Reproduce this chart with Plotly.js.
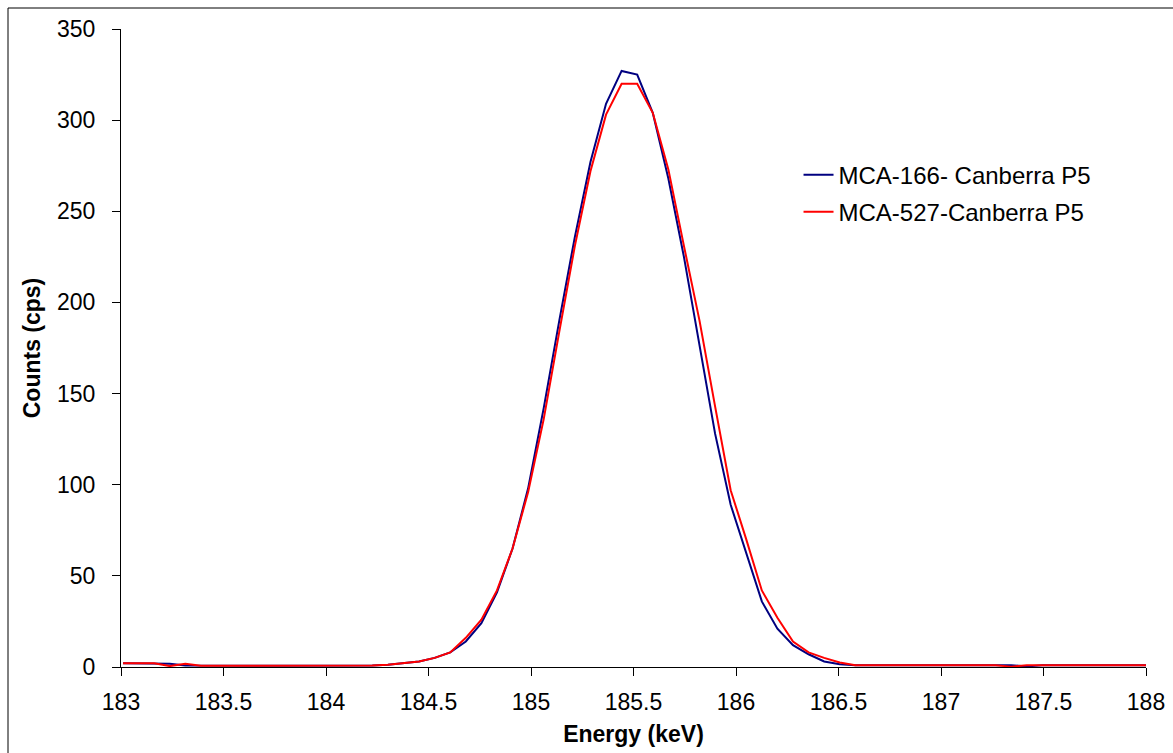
<!DOCTYPE html>
<html>
<head>
<meta charset="utf-8">
<script src="https://cdn.plot.ly/plotly-3.0.1.min.js"></script>
<style>
html,body{margin:0;padding:0;background:#fff;}
#chart{width:1173px;height:753px;}
</style>
</head>
<body>
<div id="chart"></div>
<script>
// Energy channels (keV)
const energy = [
  183.010, 183.086, 183.162, 183.238, 183.314, 183.390, 183.466, 183.542, 183.618, 183.694,
  183.770, 183.846, 183.922, 183.998, 184.074, 184.150, 184.226, 184.302, 184.378, 184.454,
  184.530, 184.606, 184.682, 184.758, 184.834, 184.910, 184.986, 185.062, 185.138, 185.214,
  185.290, 185.366, 185.442, 185.518, 185.594, 185.670, 185.746, 185.822, 185.898, 185.974,
  186.050, 186.126, 186.202, 186.278, 186.354, 186.430, 186.506, 186.582, 186.658, 186.734,
  186.810, 186.886, 186.962, 187.038, 187.114, 187.190, 187.266, 187.342, 187.418, 187.494,
  187.570, 187.646, 187.722, 187.798, 187.874, 187.950, 188.026
];

// MCA-166- Canberra P5 (cps)
const mca166 = [
  2, 2, 2, 1.8, 0.8, 0.7, 0.7, 0.7, 0.7, 0.7,
  0.7, 0.7, 0.7, 0.7, 0.7, 0.7, 0.8, 1.3, 2, 3,
  5, 8, 14, 24, 41, 65, 98, 142, 190, 236,
  277, 309, 327, 325, 304, 268, 225, 176, 128, 89,
  62, 36, 21, 12, 7, 3, 1.5, 1, 1, 1,
  1, 1, 1, 1, 1, 1, 1, 1, 0.3, 1,
  1, 1, 1, 1, 1, 1, 1
];

// MCA-527-Canberra P5 (cps)
const mca527 = [
  2, 2, 2, 0.5, 1.8, 0.7, 0.7, 0.7, 0.7, 0.7,
  0.7, 0.7, 0.7, 0.7, 0.7, 0.7, 0.8, 1.3, 2, 3,
  5, 8, 16, 26, 42, 65, 96, 136, 184, 231,
  272, 303, 320, 320, 304, 273, 231, 190, 143, 97,
  70, 42, 27, 14, 8, 5, 2.5, 1, 1, 1,
  1, 1, 1, 1, 1, 1, 1, 0.2, 1, 1,
  1, 1, 1, 1, 1, 1, 1
];

const seriesNames = ["MCA-166- Canberra P5", "MCA-527-Canberra P5"];
const xTicks = [183, 183.5, 184, 184.5, 185, 185.5, 186, 186.5, 187, 187.5, 188];
const xTickText = ["183", "183.5", "184", "184.5", "185", "185.5", "186", "186.5", "187", "187.5", "188"];
const yTicks = [0, 50, 100, 150, 200, 250, 300, 350];

const FONT = "Liberation Sans, Arial, sans-serif";

const traces = [
  {x: energy, y: mca166, type: "scatter", mode: "lines", name: seriesNames[0],
   line: {color: "#000080", width: 2}, legend: "legend", cliponaxis: true},
  {x: energy, y: mca527, type: "scatter", mode: "lines", name: seriesNames[1],
   line: {color: "#FF0000", width: 2}, legend: "legend2", cliponaxis: true}
];

const legendCommon = {
  xanchor: "left", yanchor: "middle",
  bgcolor: "rgba(0,0,0,0)", borderwidth: 0,
  font: {family: FONT, size: 24, color: "#000"}
};

const layout = {
  width: 1173, height: 753,
  margin: {l: 121, r: 27, t: 29, b: 86},
  paper_bgcolor: "#fff", plot_bgcolor: "#fff",
  font: {family: FONT, size: 23, color: "#000"},
  showlegend: true,
  legend: Object.assign({x: 0.661, y: 0.771}, legendCommon),
  legend2: Object.assign({x: 0.661, y: 0.713}, legendCommon),
  xaxis: {
    range: [183, 188],
    tickmode: "array", tickvals: xTicks, ticktext: xTickText,
    ticks: "outside", ticklen: 8, tickcolor: "#000", tickwidth: 1,
    showline: true, linecolor: "#000", linewidth: 1,
    showgrid: false, zeroline: false,
    ticklabelstandoff: 6,
    tickfont: {family: FONT, size: 23, color: "#000"},
    title: {text: "<b>Energy (keV)</b>", font: {family: FONT, size: 23, color: "#000"}, standoff: 12}
  },
  yaxis: {
    range: [0, 350],
    tickmode: "array", tickvals: yTicks,
    ticks: "outside", ticklen: 8, tickcolor: "#000", tickwidth: 1,
    showline: true, linecolor: "#000", linewidth: 1,
    showgrid: false, zeroline: false,
    ticklabelstandoff: 12,
    tickfont: {family: FONT, size: 23, color: "#000"},
    title: {text: "<b>Counts (cps)</b>", font: {family: FONT, size: 23, color: "#000"}, standoff: 9}
  },
  shapes: [
    {type: "rect", xref: "paper", yref: "paper",
     x0: (8 - 121) / 1025, x1: (1185 - 121) / 1025,
     y0: (667 - 765) / 638, y1: 1 + (29 - 8) / 638,
     line: {color: "#000", width: 1}, fillcolor: "rgba(0,0,0,0)", layer: "below"}
  ]
};

Plotly.newPlot("chart", traces, layout, {displayModeBar: false, staticPlot: true});
</script>
</body>
</html>
